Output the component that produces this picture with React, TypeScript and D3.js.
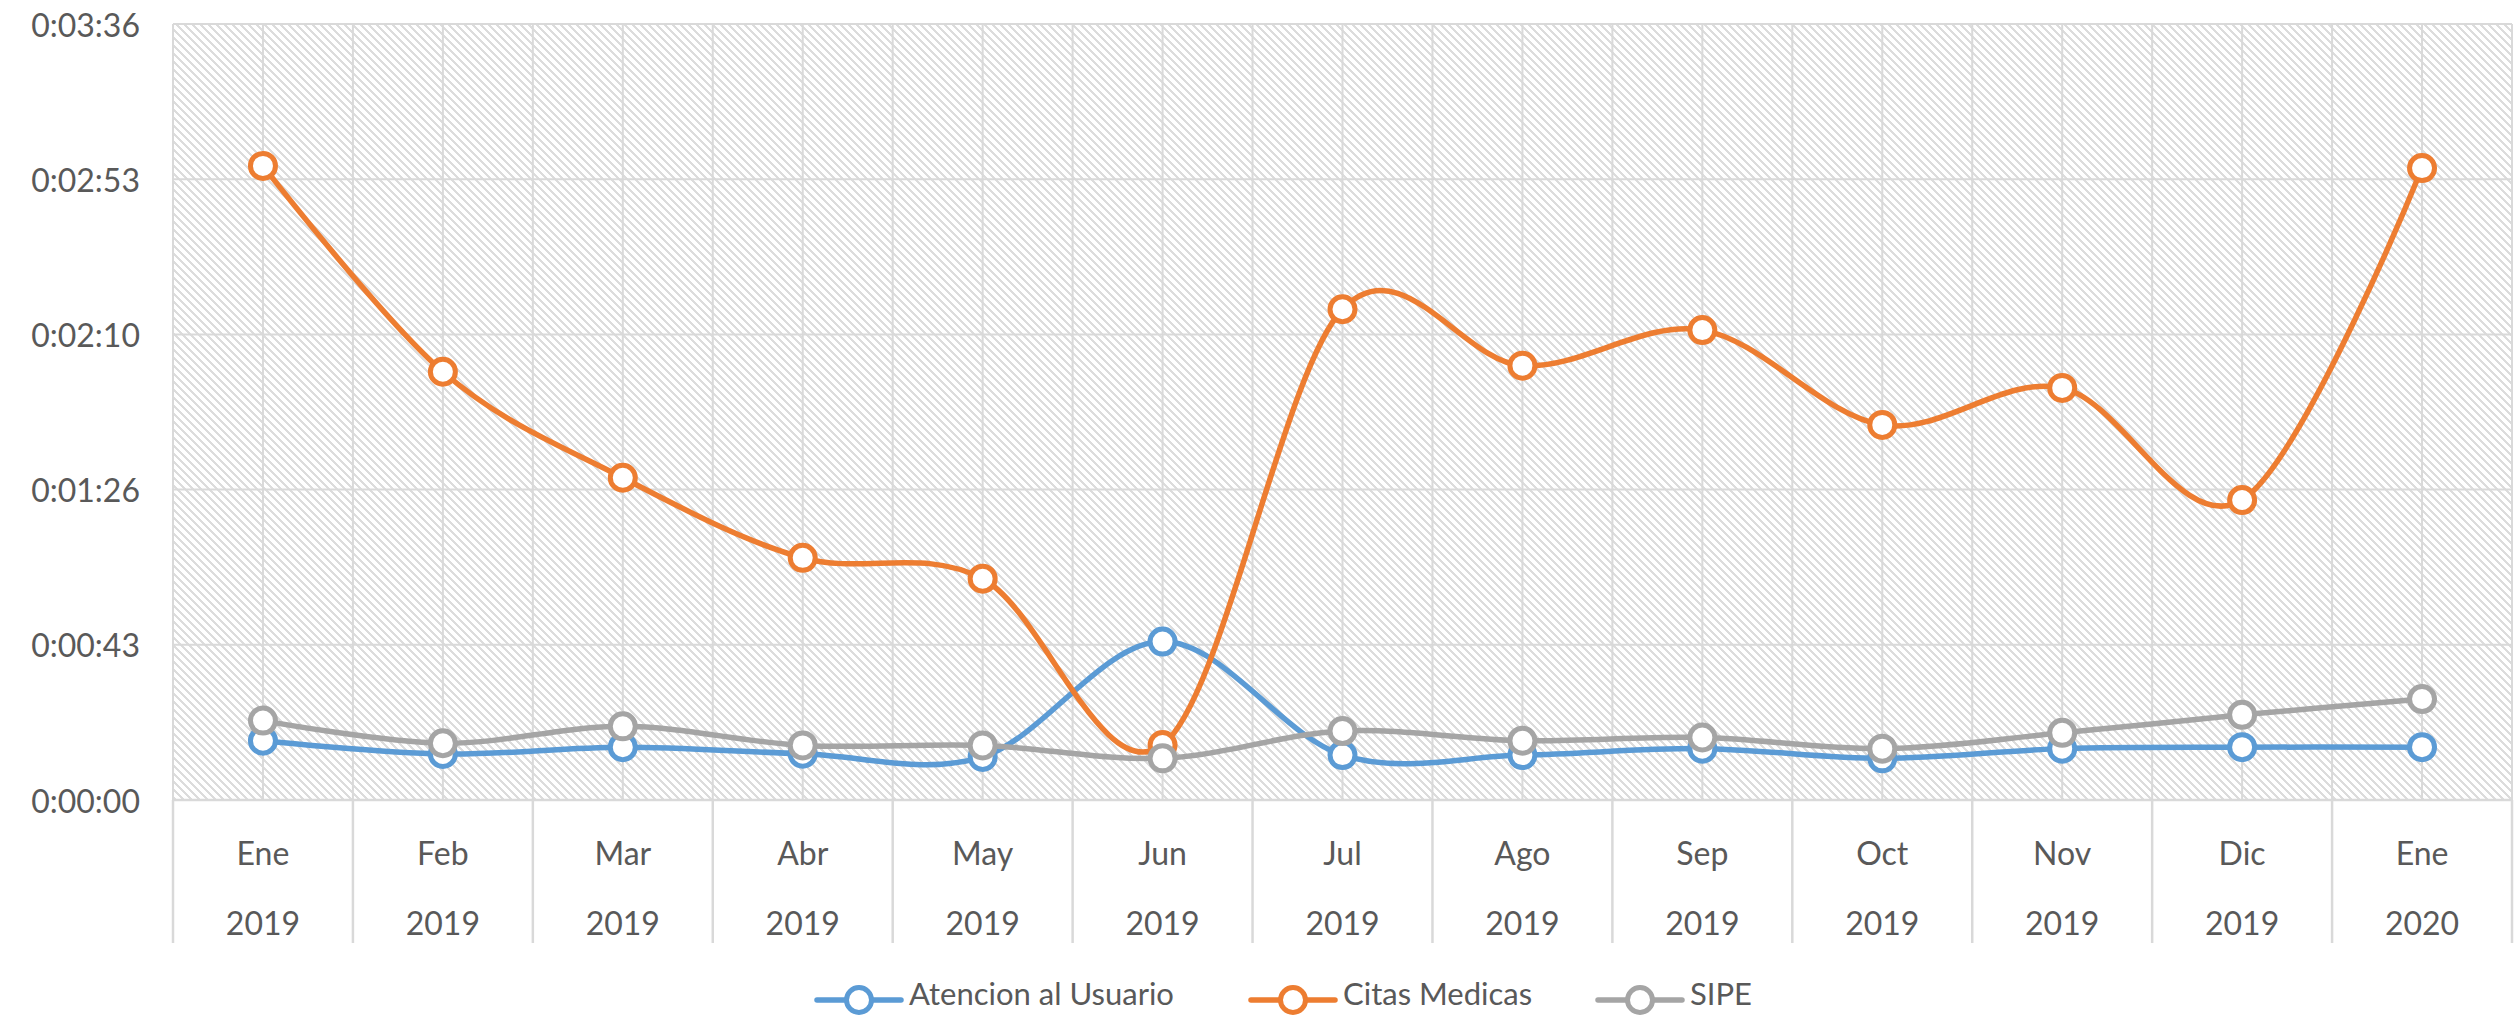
import React from "react";
import * as d3 from "d3";

const months = ["Ene", "Feb", "Mar", "Abr", "May", "Jun", "Jul", "Ago", "Sep", "Oct", "Nov", "Dic", "Ene"];
const years = ["2019", "2019", "2019", "2019", "2019", "2019", "2019", "2019", "2019", "2019", "2019", "2019", "2020"];

// values in seconds
const atencion = [16.5, 12.8, 14.7, 12.9, 12.0, 44.1, 12.5, 12.5, 14.3, 11.6, 14.3, 14.7, 14.7];
const citas = [176.5, 119.2, 89.7, 67.4, 61.6, 15.3, 136.6, 120.9, 130.8, 104.4, 114.7, 83.5, 175.9];
const sipe = [22.1, 15.8, 20.5, 15.2, 15.2, 11.6, 19.2, 16.5, 17.4, 14.3, 18.7, 23.7, 28.1];

const yTickValues = [0, 43.2, 86.4, 129.6, 172.8, 216];
const yTickLabels = ["0:00:00", "0:00:43", "0:01:26", "0:02:10", "0:02:53", "0:03:36"];

const seriesNames = ["Atencion al Usuario", "Citas Medicas", "SIPE"];
const seriesColors = ["#5B9BD5", "#ED7D31", "#A5A5A5"];

const W = 2514;
const H = 1016;
const left = 173;
const right = 2512;
const top = 24;
const bottom = 800;
const FONT = "Lato, 'Open Sans', sans-serif";
const TEXT = "#595959";
const GRID = "#d9d9d9";

export default function App() {
  const idx = months.map((_, i) => String(i));
  const x = d3.scaleBand<string>().domain(idx).range([left, right]).padding(0);
  const bw = x.bandwidth();
  const cx = (i: number) => (x(String(i)) as number) + bw / 2;
  const y = d3.scaleLinear().domain([0, 216]).range([bottom, top]);

  const line = d3
    .line<number>()
    .x((_, i) => cx(i))
    .y((d) => y(d))
    .curve(d3.curveCatmullRom.alpha(0));

  const allSeries = [atencion, citas, sipe];

  const boundaries = d3.range(months.length + 1).map((i) => left + i * bw);

  const legendItems = [
    { x0: 817, tx: 909 },
    { x0: 1251, tx: 1343 },
    { x0: 1598, tx: 1690 },
  ];
  const legendY = 1000;

  return (
    <svg
      width={W}
      height={H}
      style={{ position: "absolute", left: 0, top: 0, display: "block", background: "#fff" }}
      fontFamily={FONT}
    >
      <defs>
        <pattern id="hatch" patternUnits="userSpaceOnUse" width={8} height={8}>
          <rect width={8} height={8} fill="#ffffff" />
          <path d="M0,0 L8,8 M-4,4 L4,12 M4,-4 L12,4" stroke="#dcdcdc" strokeWidth={1.8} shapeRendering="crispEdges" />
        </pattern>
      </defs>

      <rect x={left} y={top} width={right - left} height={bottom - top} fill="url(#hatch)" />

      {/* horizontal gridlines */}
      {yTickValues.map((v, i) => (
        <line key={"h" + i} x1={left} x2={right} y1={y(v)} y2={y(v)} stroke={GRID} strokeWidth={2} />
      ))}
      {/* vertical gridlines at boundaries and centers */}
      {boundaries.map((bx, i) => (
        <line key={"vb" + i} x1={bx} x2={bx} y1={top} y2={bottom} stroke={GRID} strokeWidth={2} />
      ))}
      {months.map((_, i) => (
        <line key={"vc" + i} x1={cx(i)} x2={cx(i)} y1={top} y2={bottom} stroke={GRID} strokeWidth={2} />
      ))}

      {/* x axis ticks */}
      <line x1={left} x2={right} y1={bottom} y2={bottom} stroke={GRID} strokeWidth={2.5} />
      {boundaries.map((bx, i) => (
        <line key={"t" + i} x1={bx} x2={bx} y1={bottom} y2={943} stroke={GRID} strokeWidth={2.5} />
      ))}

      {/* y labels */}
      {yTickValues.map((v, i) => (
        <text
          key={"yl" + i}
          x={140}
          y={y(v)}
          textAnchor="end"
          dominantBaseline="central"
          fontSize={32}
          fill={TEXT}
        >
          {yTickLabels[i]}
        </text>
      ))}

      {/* x labels */}
      {months.map((m, i) => (
        <g key={"xl" + i}>
          <text x={cx(i)} y={852} textAnchor="middle" dominantBaseline="central" fontSize={32} fill={TEXT}>
            {m}
          </text>
          <text x={cx(i)} y={922} textAnchor="middle" dominantBaseline="central" fontSize={32} fill={TEXT}>
            {years[i]}
          </text>
        </g>
      ))}

      {/* series */}
      {allSeries.map((s, si) => (
        <g key={"s" + si}>
          <path d={line(s) || ""} fill="none" stroke={seriesColors[si]} strokeWidth={5.5} strokeLinecap="round" />
          {s.map((v, i) => (
            <circle key={i} cx={cx(i)} cy={y(v)} r={12.5} fill="#fff" stroke={seriesColors[si]} strokeWidth={5} />
          ))}
        </g>
      ))}

      {/* legend */}
      {legendItems.map((it, i) => (
        <g key={"lg" + i}>
          <line x1={it.x0} x2={it.x0 + 84} y1={legendY} y2={legendY} stroke={seriesColors[i]} strokeWidth={5.5} strokeLinecap="round" />
          <circle cx={it.x0 + 42} cy={legendY} r={12.5} fill="#fff" stroke={seriesColors[i]} strokeWidth={5} />
          <text x={it.tx} y={1005} fontSize={31} fill={TEXT}>
            {seriesNames[i]}
          </text>
        </g>
      ))}
    </svg>
  );
}
